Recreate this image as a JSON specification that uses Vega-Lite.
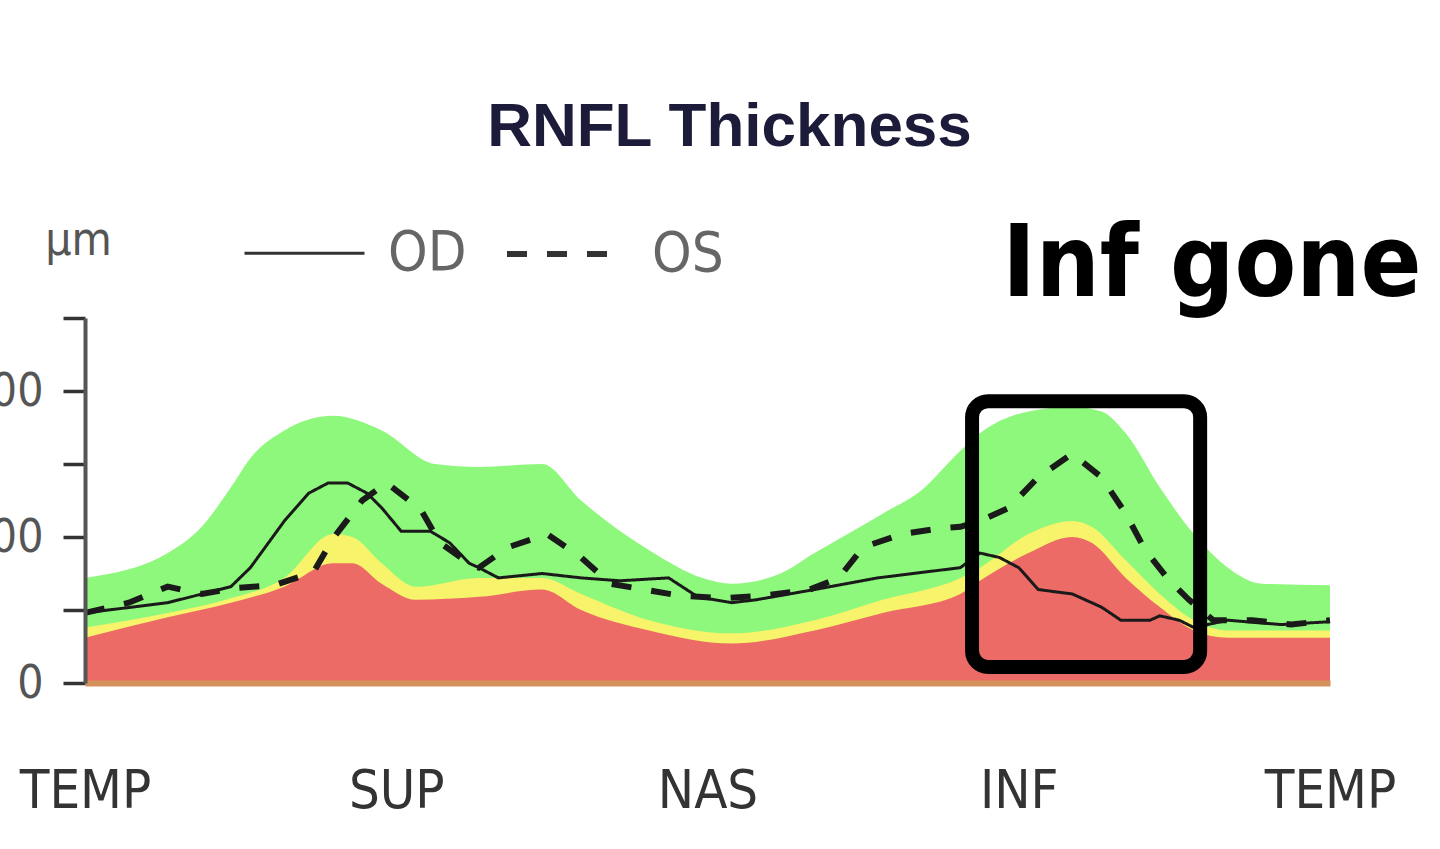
{
  "$schema": "https://vega.github.io/schema/vega-lite/v6.json",
  "width": 1245,
  "height": 365,
  "autosize": {"type": "none"},
  "padding": {"left": 85, "top": 318, "right": 110, "bottom": 166},
  "background": "white",
  "title": {"text": "RNFL Thickness", "font": "Liberation Sans", "fontSize": 62, "fontWeight": "bold", "color": "#1c1c3a", "anchor": "middle", "dx": 22, "offset": 32},
  "config": {"view": {"stroke": null}},
  "datasets": {
    "bands": [
      {"pos": 0, "band": "green", "v": 72}, {"pos": 17, "band": "green", "v": 89}, {"pos": 24, "band": "green", "v": 107}, {"pos": 30, "band": "green", "v": 134}, {"pos": 34, "band": "green", "v": 154}, {"pos": 41, "band": "green", "v": 173}, {"pos": 51, "band": "green", "v": 183}, {"pos": 61, "band": "green", "v": 173}, {"pos": 72, "band": "green", "v": 150}, {"pos": 81, "band": "green", "v": 148}, {"pos": 94, "band": "green", "v": 150}, {"pos": 102, "band": "green", "v": 125}, {"pos": 116, "band": "green", "v": 91}, {"pos": 127, "band": "green", "v": 72}, {"pos": 133, "band": "green", "v": 68}, {"pos": 143, "band": "green", "v": 75}, {"pos": 150, "band": "green", "v": 89}, {"pos": 164, "band": "green", "v": 116}, {"pos": 172, "band": "green", "v": 132}, {"pos": 180, "band": "green", "v": 159}, {"pos": 184, "band": "green", "v": 171}, {"pos": 194, "band": "green", "v": 186}, {"pos": 203, "band": "green", "v": 189}, {"pos": 209, "band": "green", "v": 186}, {"pos": 214, "band": "green", "v": 171}, {"pos": 221, "band": "green", "v": 134}, {"pos": 228, "band": "green", "v": 102}, {"pos": 235, "band": "green", "v": 79}, {"pos": 242, "band": "green", "v": 68}, {"pos": 256, "band": "green", "v": 67},
      {"pos": 0, "band": "yellow", "v": 38}, {"pos": 17, "band": "yellow", "v": 48}, {"pos": 30, "band": "yellow", "v": 58}, {"pos": 41, "band": "yellow", "v": 72}, {"pos": 51, "band": "yellow", "v": 102}, {"pos": 55, "band": "yellow", "v": 100}, {"pos": 61, "band": "yellow", "v": 82}, {"pos": 68, "band": "yellow", "v": 66}, {"pos": 81, "band": "yellow", "v": 72}, {"pos": 94, "band": "yellow", "v": 72}, {"pos": 102, "band": "yellow", "v": 61}, {"pos": 116, "band": "yellow", "v": 43}, {"pos": 133, "band": "yellow", "v": 34}, {"pos": 150, "band": "yellow", "v": 43}, {"pos": 164, "band": "yellow", "v": 57}, {"pos": 180, "band": "yellow", "v": 72}, {"pos": 184, "band": "yellow", "v": 79}, {"pos": 194, "band": "yellow", "v": 102}, {"pos": 203, "band": "yellow", "v": 111}, {"pos": 207, "band": "yellow", "v": 107}, {"pos": 214, "band": "yellow", "v": 84}, {"pos": 221, "band": "yellow", "v": 61}, {"pos": 228, "band": "yellow", "v": 43}, {"pos": 235, "band": "yellow", "v": 36}, {"pos": 256, "band": "yellow", "v": 36},
      {"pos": 0, "band": "red", "v": 31}, {"pos": 17, "band": "red", "v": 45}, {"pos": 30, "band": "red", "v": 55}, {"pos": 41, "band": "red", "v": 66}, {"pos": 51, "band": "red", "v": 82}, {"pos": 55, "band": "red", "v": 82}, {"pos": 61, "band": "red", "v": 68}, {"pos": 68, "band": "red", "v": 57}, {"pos": 81, "band": "red", "v": 59}, {"pos": 94, "band": "red", "v": 64}, {"pos": 102, "band": "red", "v": 50}, {"pos": 116, "band": "red", "v": 36}, {"pos": 133, "band": "red", "v": 27}, {"pos": 150, "band": "red", "v": 36}, {"pos": 164, "band": "red", "v": 48}, {"pos": 180, "band": "red", "v": 61}, {"pos": 184, "band": "red", "v": 70}, {"pos": 194, "band": "red", "v": 89}, {"pos": 203, "band": "red", "v": 100}, {"pos": 207, "band": "red", "v": 96}, {"pos": 214, "band": "red", "v": 72}, {"pos": 221, "band": "red", "v": 52}, {"pos": 228, "band": "red", "v": 36}, {"pos": 235, "band": "red", "v": 31}, {"pos": 256, "band": "red", "v": 31}
    ],
    "eyes": [
      {"pos": 0, "eye": "OD", "v": 48}, {"pos": 17, "eye": "OD", "v": 55}, {"pos": 30, "eye": "OD", "v": 66}, {"pos": 34, "eye": "OD", "v": 79}, {"pos": 41, "eye": "OD", "v": 111}, {"pos": 46, "eye": "OD", "v": 130}, {"pos": 50, "eye": "OD", "v": 137}, {"pos": 54, "eye": "OD", "v": 137}, {"pos": 58, "eye": "OD", "v": 130}, {"pos": 61, "eye": "OD", "v": 120}, {"pos": 65, "eye": "OD", "v": 104}, {"pos": 71, "eye": "OD", "v": 104}, {"pos": 75, "eye": "OD", "v": 96}, {"pos": 79, "eye": "OD", "v": 82}, {"pos": 81, "eye": "OD", "v": 79}, {"pos": 85, "eye": "OD", "v": 72}, {"pos": 94, "eye": "OD", "v": 75}, {"pos": 102, "eye": "OD", "v": 72}, {"pos": 110, "eye": "OD", "v": 70}, {"pos": 120, "eye": "OD", "v": 72}, {"pos": 126, "eye": "OD", "v": 59}, {"pos": 133, "eye": "OD", "v": 55}, {"pos": 138, "eye": "OD", "v": 57}, {"pos": 150, "eye": "OD", "v": 64}, {"pos": 163, "eye": "OD", "v": 72}, {"pos": 180, "eye": "OD", "v": 79}, {"pos": 184, "eye": "OD", "v": 89}, {"pos": 188, "eye": "OD", "v": 86}, {"pos": 192, "eye": "OD", "v": 79}, {"pos": 196, "eye": "OD", "v": 64}, {"pos": 203, "eye": "OD", "v": 61}, {"pos": 209, "eye": "OD", "v": 52}, {"pos": 213, "eye": "OD", "v": 43}, {"pos": 219, "eye": "OD", "v": 43}, {"pos": 221, "eye": "OD", "v": 46}, {"pos": 225, "eye": "OD", "v": 43}, {"pos": 228, "eye": "OD", "v": 38}, {"pos": 235, "eye": "OD", "v": 43}, {"pos": 246, "eye": "OD", "v": 40}, {"pos": 256, "eye": "OD", "v": 42},
      {"pos": 0, "eye": "OS", "v": 48}, {"pos": 9, "eye": "OS", "v": 55}, {"pos": 17, "eye": "OS", "v": 66}, {"pos": 24, "eye": "OS", "v": 61}, {"pos": 31, "eye": "OS", "v": 65}, {"pos": 39, "eye": "OS", "v": 67}, {"pos": 47, "eye": "OS", "v": 76}, {"pos": 51, "eye": "OS", "v": 99}, {"pos": 57, "eye": "OS", "v": 125}, {"pos": 62, "eye": "OS", "v": 137}, {"pos": 69, "eye": "OS", "v": 119}, {"pos": 73, "eye": "OS", "v": 96}, {"pos": 79, "eye": "OS", "v": 82}, {"pos": 81, "eye": "OS", "v": 79}, {"pos": 87, "eye": "OS", "v": 93}, {"pos": 95, "eye": "OS", "v": 102}, {"pos": 102, "eye": "OS", "v": 86}, {"pos": 108, "eye": "OS", "v": 68}, {"pos": 115, "eye": "OS", "v": 64}, {"pos": 122, "eye": "OS", "v": 60}, {"pos": 131, "eye": "OS", "v": 58}, {"pos": 140, "eye": "OS", "v": 60}, {"pos": 149, "eye": "OS", "v": 64}, {"pos": 155, "eye": "OS", "v": 72}, {"pos": 160, "eye": "OS", "v": 93}, {"pos": 168, "eye": "OS", "v": 102}, {"pos": 176, "eye": "OS", "v": 106}, {"pos": 180, "eye": "OS", "v": 107}, {"pos": 184, "eye": "OS", "v": 111}, {"pos": 190, "eye": "OS", "v": 120}, {"pos": 196, "eye": "OS", "v": 141}, {"pos": 203, "eye": "OS", "v": 157}, {"pos": 209, "eye": "OS", "v": 141}, {"pos": 214, "eye": "OS", "v": 116}, {"pos": 218, "eye": "OS", "v": 91}, {"pos": 223, "eye": "OS", "v": 70}, {"pos": 227, "eye": "OS", "v": 57}, {"pos": 232, "eye": "OS", "v": 43}, {"pos": 240, "eye": "OS", "v": 43}, {"pos": 248, "eye": "OS", "v": 40}, {"pos": 256, "eye": "OS", "v": 43}
    ],
    "ticks": [{"v": 50}, {"v": 100}, {"v": 150}, {"v": 200}, {"v": 250}],
    "box": [{"pos": 182.4, "pos2": 229.3, "v": 193, "v2": 11}],
    "note": [{"pos": 231.7, "v": 265, "label": "Inf gone"}]
  },
  "encoding": {
    "x": {
      "field": "pos", "type": "quantitative",
      "scale": {"domain": [0, 256], "nice": false},
      "axis": {
        "title": null, "values": [0, 64, 128, 192, 256],
        "labelExpr": "datum.value == 64 ? 'SUP' : datum.value == 128 ? 'NAS' : datum.value == 192 ? 'INF' : 'TEMP'",
        "labelFont": "DejaVu Sans Condensed, Liberation Sans", "labelFontSize": 54, "labelColor": "#333",
        "labelPadding": 81, "labelFlush": false, "labelOverlap": false, "labelBound": false,
        "tickSize": 0, "grid": false,
        "domainColor": "#d4915b", "domainWidth": 6, "zindex": 1
      }
    },
    "y": {
      "field": "v", "type": "quantitative",
      "scale": {"domain": [0, 250], "nice": false},
      "axis": {
        "title": "µm", "titleAngle": 0, "titleX": -7, "titleY": -78, "titleAlign": "center", "titleBaseline": "middle",
        "titleFont": "DejaVu Sans Condensed, Liberation Sans", "titleFontSize": 46, "titleFontWeight": "normal", "titleColor": "#555",
        "values": [0, 50, 100, 150, 200, 250],
        "labelExpr": "datum.value % 100 == 0 ? datum.label : ''",
        "labelFont": "DejaVu Sans Condensed, Liberation Sans", "labelFontSize": 46, "labelColor": "#555",
        "labelPadding": 20, "labelFlush": false, "labelOverlap": false,
        "tickSize": 22, "tickWidth": 3.5, "tickColor": "#333",
        "domainColor": "#555", "domainWidth": 4, "grid": false, "zindex": 1
      }
    }
  },
  "layer": [
    {"data": {"name": "bands"}, "transform": [{"filter": "datum.band == 'green'"}], "mark": {"type": "area", "color": "#8ef87c", "interpolate": "monotone"}},
    {"data": {"name": "bands"}, "transform": [{"filter": "datum.band == 'yellow'"}], "mark": {"type": "area", "color": "#f7f36a", "interpolate": "monotone"}},
    {"data": {"name": "bands"}, "transform": [{"filter": "datum.band == 'red'"}], "mark": {"type": "area", "color": "#ec6b66", "interpolate": "monotone"}},
    {
      "data": {"name": "eyes"},
      "mark": {"type": "line", "color": "#1a1a1a"},
      "encoding": {
        "detail": {"field": "eye"},
        "strokeDash": {
          "field": "eye", "type": "nominal",
          "scale": {"domain": ["OD", "OS"], "range": [[1, 0], [20, 20]]},
          "legend": {
            "title": null, "orient": "none", "legendX": 158, "legendY": -127, "direction": "horizontal",
            "symbolType": "stroke", "symbolSize": 14400, "symbolStrokeWidth": 4, "symbolStrokeColor": "#333",
            "labelFont": "DejaVu Sans Condensed, Liberation Sans", "labelFontSize": 56, "labelColor": "#666",
            "labelOffset": 22, "columnPadding": 28, "padding": 0
          }
        },
        "strokeWidth": {
          "field": "eye", "type": "ordinal",
          "scale": {"domain": ["OD", "OS"], "range": [3, 6]},
          "legend": null
        }
      }
    },
    {
      "data": {"name": "ticks"},
      "mark": {"type": "rule", "color": "#333", "strokeWidth": 3.5},
      "encoding": {"x": {"datum": 0}, "x2": {"datum": 4}}
    },
    {
      "data": {"name": "box"},
      "mark": {"type": "rect", "fill": "transparent", "stroke": "black", "strokeWidth": 14, "cornerRadius": 16},
      "encoding": {"x2": {"field": "pos2"}, "y2": {"field": "v2"}}
    },
    {
      "data": {"name": "note"},
      "mark": {"type": "text", "font": "DejaVu Sans Condensed, Liberation Sans", "fontWeight": "bold", "fontSize": 100, "align": "center", "baseline": "alphabetic", "color": "black"},
      "encoding": {"text": {"field": "label"}}
    }
  ]
}
